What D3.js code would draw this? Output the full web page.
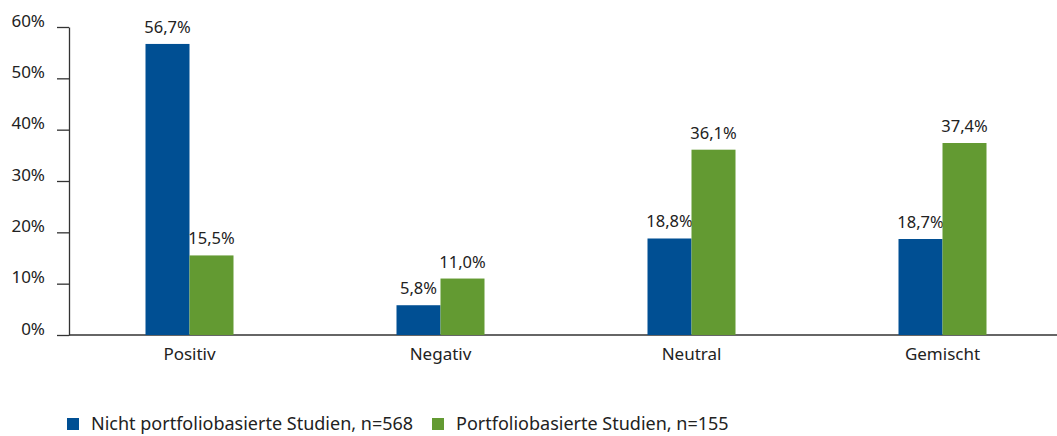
<!DOCTYPE html>
<html><head><meta charset="utf-8">
<script src="https://cdn.jsdelivr.net/npm/d3@7"></script>
<style>body{margin:0;background:#fff;} text{font-family:"Noto Sans",sans-serif;fill:#222;}</style>
</head><body>
<svg id="c" width="1057" height="436"></svg>
<script>
const categories = ["Positiv","Negativ","Neutral","Gemischt"];
const seriesNames = ["Nicht portfoliobasierte Studien, n=568","Portfoliobasierte Studien, n=155"];
const seriesA = [56.7, 5.8, 18.8, 18.7];
const seriesB = [15.5, 11.0, 36.1, 37.4];
const yTicks = [0,10,20,30,40,50,60];
const colors = ["#004f93","#639a32"];

const svg = d3.select("#c");
const fmt = v => v.toFixed(1).replace(".", ",") + "%";
const x = d3.scaleBand().domain(categories).range([64, 1068]).paddingInner(0).paddingOuter(0);
const xs = d3.scaleBand().domain([0,1]).range([-44, 44]);
const y = d3.scaleLinear().domain([0,60]).range([335, 27]);

// y axis
const ya = svg.append("g").attr("transform","translate(69,0)")
  .call(d3.axisLeft(y).tickValues(yTicks).tickFormat(d=>d+"%").tickSize(12).tickSizeOuter(0));
ya.select(".domain").attr("stroke","#333").attr("stroke-width",1.3);
ya.selectAll(".tick line").attr("stroke","#333").attr("stroke-width",1.3);
ya.selectAll(".tick text").attr("x",-24).attr("dy","-0.05em").style("font-size","17px").attr("fill","#222");

// x axis
svg.append("line").attr("x1",69).attr("x2",1057).attr("y1",335).attr("y2",335)
  .attr("stroke","#333").attr("stroke-width",1.3);
const xa = svg.append("g").attr("transform","translate(0,335)")
  .call(d3.axisBottom(x).tickSize(0).tickSizeOuter(0));
xa.select(".domain").remove();
xa.selectAll(".tick text").attr("y",13).style("font-size","17px").attr("fill","#222");

const data = [seriesA, seriesB];
data.forEach((s, si) => {
  const g = svg.append("g");
  g.selectAll("rect").data(s).join("rect")
    .attr("x",(d,i)=>x(categories[i]) + x.bandwidth()/2 + xs(si))
    .attr("width",xs.bandwidth())
    .attr("y",d=>y(d)).attr("height",d=>y(0)-y(d))
    .attr("fill",colors[si]);
  g.selectAll("text").data(s).join("text")
    .attr("x",(d,i)=>x(categories[i]) + x.bandwidth()/2 + xs(si) + xs.bandwidth()/2)
    .attr("y",d=>y(d)-11)
    .attr("text-anchor","middle").style("font-size","16.5px")
    .text(fmt);
});

// legend
const lx = [67, 432];
seriesNames.forEach((n,i)=>{
  svg.append("rect").attr("x",lx[i]).attr("y",418).attr("width",12).attr("height",12).attr("fill",colors[i]);
  svg.append("text").attr("x",lx[i]+24).attr("y",430).style("font-size","18px").text(n);
});
</script>
</body></html>
